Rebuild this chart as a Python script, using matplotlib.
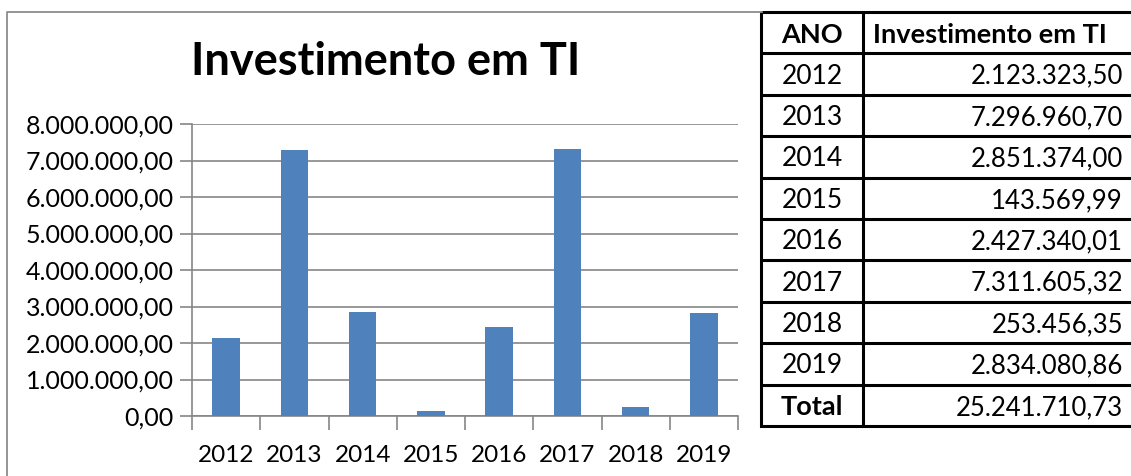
import numpy as np
import matplotlib.pyplot as plt
from matplotlib.patches import Rectangle
from matplotlib.lines import Line2D

W, H = 1131, 476

anos = ['2012', '2013', '2014', '2015', '2016', '2017', '2018', '2019']
investimento = [2123323.50, 7296960.70, 2851374.00, 143569.99,
                2427340.01, 7311605.32, 253456.35, 2834080.86]
y_ticks = [0, 1000000, 2000000, 3000000, 4000000, 5000000, 6000000, 7000000, 8000000]
titulo = 'Investimento em TI'
cabecalho = ['ANO', 'Investimento em TI']


def fmt_br(v):
    # 1,234.56 -> 1.234,56
    s = f'{v:,.2f}'
    return s.replace(',', '#').replace('.', ',').replace('#', '.')


plt.rcParams['font.family'] = ['Lato', 'DejaVu Sans']

fig = plt.figure(figsize=(W / 100, H / 100), dpi=100)

# chart frame: only left and top edges show
frame_x = [7 / W, 7 / W, 762 / W]
frame_y = [0, 1 - 12 / H, 1 - 12 / H]
fig.lines.append(Line2D(frame_x, frame_y, transform=fig.transFigure,
                        color='#8c8c8c', linewidth=1.3))

ax = fig.add_axes([192 / W, 1 - 416 / H, (738 - 192) / W, (416 - 124) / H])
x = np.arange(len(anos))
ax.bar(x, investimento, width=0.4, color='#4f81bd', zorder=3)
ax.set_xlim(-0.5, len(anos) - 0.5)
ax.set_ylim(0, 8000000)
ax.set_yticks(y_ticks)
ax.set_yticklabels([fmt_br(v) for v in y_ticks], fontsize=18)
ax.set_xticks(x)
ax.set_xticklabels(anos, fontsize=17.5)
ax.set_xticks(np.arange(len(anos) + 1) - 0.5, minor=True)
ax.tick_params(axis='x', which='major', length=0, pad=21)
ax.tick_params(axis='x', which='minor', length=10, color='#868686', width=1.2)
ax.tick_params(axis='y', length=9, color='#868686', width=1.2, pad=4)
ax.grid(axis='y', color='#868686', linewidth=1.2, zorder=0)
for s in ['top', 'right']:
    ax.spines[s].set_visible(False)
ax.spines['left'].set_color('#868686')
ax.spines['bottom'].set_color('#868686')
ax.spines['left'].set_linewidth(1.2)
ax.spines['bottom'].set_linewidth(1.2)

fig.text(386 / W, 1 - 62 / H, titulo, fontsize=32.5, fontweight='bold',
         ha='center', va='center')

# table on the right
tab = fig.add_axes([761 / W, 1 - 426 / H, (1140 - 761) / W, (426 - 12) / H])
tab.set_xlim(761, 1140)
n_rows = len(anos) + 2
tab.set_ylim(n_rows, 0)
tab.axis('off')
tab.add_patch(Rectangle((761, 0), 1140 - 761, n_rows, fill=False,
                        edgecolor='black', linewidth=2.2, clip_on=False))
tab.plot([863, 863], [0, n_rows], color='black', linewidth=2.2)
for r in range(1, n_rows):
    tab.plot([761, 1140], [r, r], color='black', linewidth=2.2)

tab.text(812, 0.55, cabecalho[0], fontsize=19.5, fontweight='bold', ha='center', va='center')
tab.text(873, 0.55, cabecalho[1], fontsize=19.5, fontweight='bold', ha='left', va='center')
for i, (a, v) in enumerate(zip(anos, investimento)):
    tab.text(812, i + 1.55, a, fontsize=19, ha='center', va='center')
    tab.text(1123, i + 1.55, fmt_br(v), fontsize=18.5, ha='right', va='center')
tab.text(812, n_rows - 0.45, 'Total', fontsize=19.5, fontweight='bold', ha='center', va='center')
tab.text(1123, n_rows - 0.45, fmt_br(sum(investimento)), fontsize=18.5, ha='right', va='center')

fig.savefig('out.png', dpi=100)
